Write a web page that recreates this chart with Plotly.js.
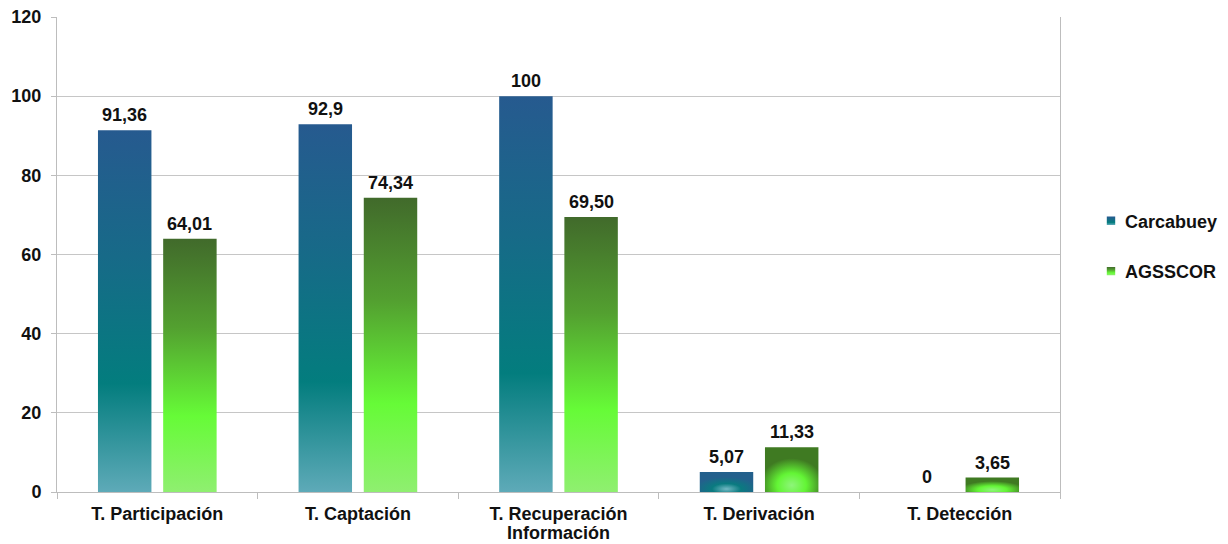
<!DOCTYPE html>
<html>
<head>
<meta charset="utf-8">
<script src="https://cdn.plot.ly/plotly-3.0.1.min.js"></script>
<style>
  html, body { margin: 0; padding: 0; background: #ffffff; }
  #chart { width: 1228px; height: 544px; }
</style>
</head>
<body>
<div id="chart"></div>
<script>
// ---- data ----
const categories = ['T. Participación', 'T. Captación', 'T. Recuperación<br>Información', 'T. Derivación', 'T. Detección'];
const carcabuey = [91.36, 92.9, 100, 5.07, 0];
const agsscor = [64.01, 74.34, 69.50, 11.33, 3.65];
const carcabueyLabels = ['91,36', '92,9', '100', '5,07', '0'];
const agsscorLabels = ['64,01', '74,34', '69,50', '11,33', '3,65'];
const seriesNames = ['Carcabuey', 'AGSSCOR'];
const yTicks = [0, 20, 40, 60, 80, 100, 120];

const FONT = 'Arial, "Liberation Sans", sans-serif';

const traces = [
  { type: 'bar', name: seriesNames[0], x: categories, y: carcabuey,
    marker: { color: '#137a86' }, legendgroup: 'a', hoverinfo: 'none' },
  { type: 'bar', name: seriesNames[1], x: categories, y: agsscor,
    marker: { color: '#5ee83a' }, legendgroup: 'b', hoverinfo: 'none' }
];

const annotations = [];
const offsets = [-32.5, 32.5];
[[carcabuey, carcabueyLabels], [agsscor, agsscorLabels]].forEach(([vals, labs], s) => {
  vals.forEach((v, i) => {
    annotations.push({
      x: categories[i], y: v, xref: 'x', yref: 'y',
      text: labs[i], showarrow: false,
      xshift: offsets[s], yshift: 15, yanchor: 'middle',
      font: { family: FONT, size: 18, color: '#111111', weight: 'bold' }
    });
  });
});

const layout = {
  width: 1228, height: 544,
  margin: { l: 57, r: 168, t: 17, b: 52, autoexpand: false },
  paper_bgcolor: '#ffffff', plot_bgcolor: '#ffffff',
  font: { family: FONT, size: 17, color: '#111111' },
  barmode: 'group', bargap: 0.35, bargroupgap: 0.18,
  showlegend: true,
  legend: {
    xref: 'container', yref: 'container',
    x: 1085 / 1228, xanchor: 'left', y: 1 - 246 / 544, yanchor: 'middle',
    traceorder: 'grouped', tracegroupgap: 24,
    font: { family: FONT, size: 18, color: '#111111', weight: 'bold' },
    bgcolor: 'rgba(0,0,0,0)'
  },
  xaxis: {
    type: 'category', showgrid: false, zeroline: false,
    showline: true, linecolor: '#bdbdbd', linewidth: 1,
    ticks: 'outside', tickson: 'boundaries', ticklen: 6, tickcolor: '#bdbdbd',
    ticklabelstandoff: 5,
    tickfont: { family: FONT, size: 18, color: '#111111', weight: 'bold' },
    fixedrange: true
  },
  yaxis: {
    range: [0, 120], tickvals: yTicks, ticktext: yTicks.map(String),
    showgrid: true, gridcolor: '#c6c6c6', gridwidth: 1, zeroline: false,
    showline: true, linecolor: '#bdbdbd', linewidth: 1, mirror: true,
    ticks: 'outside', ticklen: 5, tickcolor: '#bdbdbd',
    ticklabelstandoff: 6,
    tickfont: { family: FONT, size: 18, color: '#111111', weight: 'bold' },
    fixedrange: true
  },
  annotations: annotations
};

Plotly.newPlot('chart', traces, layout, { displayModeBar: false, staticPlot: true }).then(gd => {
  const svg = gd.querySelector('svg.main-svg');
  const NS = 'http://www.w3.org/2000/svg';
  const defs = document.createElementNS(NS, 'defs');
  function grad(tag, id, attrs, stops) {
    const g = document.createElementNS(NS, tag);
    g.setAttribute('id', id);
    Object.entries(attrs).forEach(([k, v]) => g.setAttribute(k, v));
    stops.forEach(([o, c]) => {
      const s = document.createElementNS(NS, 'stop');
      s.setAttribute('offset', o); s.setAttribute('stop-color', c);
      g.appendChild(s);
    });
    defs.appendChild(g);
  }
  const L = { x1: '0', y1: '0', x2: '0', y2: '1' };
  const R = { cx: '0.5', cy: '0.85', r: '0.6' };
  grad('linearGradient', 'gBlue', L, [['0', '#265a8f'], ['0.35', '#176a88'], ['0.7', '#037d7e'], ['1', '#5eaab8']]);
  grad('linearGradient', 'gGreen', L, [['0', '#416a2b'], ['0.35', '#53a030'], ['0.7', '#66fb37'], ['1', '#8fef70']]);
  grad('radialGradient', 'rBlue', R, [['0', '#72b9c4'], ['0.45', '#0a7b80'], ['1', '#23608c']]);
  grad('radialGradient', 'rGreen', R, [['0', '#8ef57a'], ['0.45', '#63f535'], ['1', '#3f7a22']]);
  svg.insertBefore(defs, svg.firstChild);

  const ids = [['gBlue', 'rBlue'], ['gGreen', 'rGreen']];
  gd.querySelectorAll('.barlayer .trace').forEach((t, ti) => {
    t.querySelectorAll('.point path').forEach(p => {
      const h = p.getBBox().height;
      p.style.fill = 'url(#' + (h < 60 ? ids[ti][1] : ids[ti][0]) + ')';
    });
  });
  gd.querySelectorAll('.legend .traces').forEach((t, ti) => {
    t.querySelectorAll('.legendpoints path').forEach(p => {
      p.style.fill = 'url(#' + ids[ti][0] + ')';
      p.setAttribute('transform', 'translate(26,0) scale(0.7)');
    });
  });
  // tighten line spacing of multi-line x tick labels
  gd.querySelectorAll('.xtick text tspan.line').forEach(ts => {
    const dy = ts.getAttribute('dy');
    if (dy && parseFloat(dy) > 0) {
      ts.setAttribute('dy', (parseFloat(dy) * 0.83) + 'em');
    }
  });
});
</script>
</body>
</html>
